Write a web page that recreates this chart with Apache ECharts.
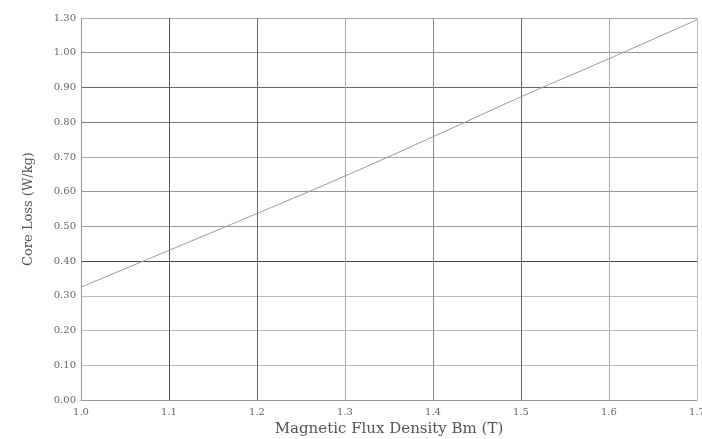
<!DOCTYPE html>
<html>
<head>
<meta charset="utf-8">
<script src="https://cdn.jsdelivr.net/npm/echarts@6/dist/echarts.min.js"></script>
<style>
  html, body { margin: 0; padding: 0; background: #fff; }
  #chart { width: 702px; height: 439px; }
</style>
</head>
<body>
<div id="chart"></div>
<script>
// flux density (T) and core loss (W/kg)
const fluxDensity = [1.0, 1.1, 1.2, 1.3, 1.4, 1.5, 1.6, 1.7];
const coreLoss = [0.325, 0.431, 0.537, 0.645, 0.758, 0.873, 0.983, 1.095];
const xTickLabels = ['1.0', '1.1', '1.2', '1.3', '1.4', '1.5', '1.6', '1.7'];
// the top label in the original reads 1.30 although it sits one step above 1.00
const yTickLabels = ['0.00', '0.10', '0.20', '0.30', '0.40', '0.50', '0.60', '0.70', '0.80', '0.90', '1.00', '1.30'];

const chart = echarts.init(document.getElementById('chart'));

const option = {
  animation: false,
  grid: { left: 81, right: 5, top: 18, bottom: 39, outerBoundsMode: 'none' },
  xAxis: {
    type: 'value',
    min: 1.0,
    max: 1.7,
    interval: 0.1,
    name: 'Magnetic Flux Density Bm (T)',
    nameLocation: 'middle',
    nameGap: 21,
    nameTextStyle: { fontFamily: 'DejaVu Serif', fontSize: 15, color: '#555' },
    axisLine: { show: true, lineStyle: { color: '#999', width: 1 } },
    axisTick: { show: false },
    axisLabel: {
      fontFamily: 'DejaVu Serif', fontSize: 10, color: '#666', margin: 7,
      formatter: (v) => xTickLabels[Math.round((v - 1.0) * 10)]
    },
    splitLine: {
      show: true,
      lineStyle: { color: ['#999', '#555', '#666', '#aaa', '#888', '#666', '#aaa', '#bbb'], width: 1 }
    }
  },
  yAxis: {
    type: 'value',
    min: 0,
    max: 1.1,
    interval: 0.1,
    name: 'Core Loss (W/kg)',
    nameLocation: 'middle',
    nameGap: 46,
    nameTextStyle: { fontFamily: 'DejaVu Serif', fontSize: 13, color: '#555' },
    axisLine: { show: true, lineStyle: { color: '#999', width: 1 } },
    axisTick: { show: false },
    axisLabel: {
      fontFamily: 'DejaVu Serif', fontSize: 10, color: '#666', margin: 5,
      formatter: (v) => yTickLabels[Math.round(v * 10)]
    },
    splitLine: {
      show: true,
      lineStyle: {
        color: ['#999', '#bbb', '#bbb', '#bbb', '#444', '#999', '#999', '#aaa', '#777', '#666', '#999', '#aaa'],
        width: 1
      }
    }
  },
  series: [{
    type: 'line',
    data: fluxDensity.map((x, i) => [x, coreLoss[i]]),
    showSymbol: false,
    smooth: true,
    lineStyle: { color: '#999', width: 1 }
  }]
};

chart.setOption(option);
</script>
</body>
</html>
